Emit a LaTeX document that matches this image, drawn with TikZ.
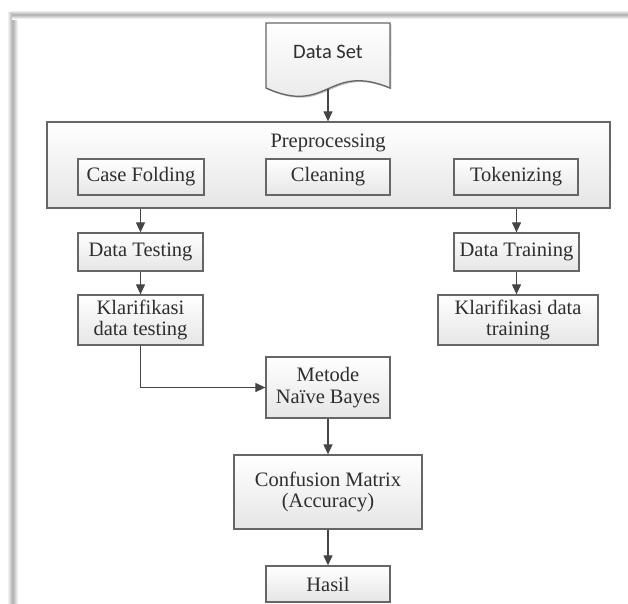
\documentclass[tikz,border=0pt]{standalone}
\usepackage{fontspec}
\setmainfont{Liberation Serif}
\newfontfamily\calibrifont{Carlito}
\usetikzlibrary{arrows.meta,shadows}
\definecolor{boxline}{HTML}{666666}
\definecolor{boxtext}{HTML}{2E2E2E}
\definecolor{arrowgray}{HTML}{454545}
\tikzset{
  boxfill/.style={draw=boxline, line width=1.3pt, top color=white, bottom color=black!10,
    drop shadow={shadow xshift=1.4pt, shadow yshift=-1.4pt, opacity=0.25, fill=black}},
  box/.style={boxfill, text=boxtext, align=center, inner sep=0pt,
    font=\fontsize{20.5}{21.5}\selectfont},
  arr/.style={draw=arrowgray, line width=1.2pt, -{Triangle[length=10pt,width=9pt]}},
}
\begin{document}
\begin{tikzpicture}[x=1pt,y=1pt]
	\useasboundingbox (0,0) rectangle (628,-603);
	% frame of the page
	\shade[left color=white, right color=white, middle color=black!32] (7,-12) rectangle (18,-603);
	\shade[top color=white, bottom color=white, middle color=black!32] (12,-10) rectangle (628,-19);
	\fill[white] (18,-19) rectangle (628,-603);

	% data set (document shape)
	\path[boxfill] (266,-23) -- (390,-23) -- (390,-88)
		.. controls (328,-62) and (328,-116) .. (266,-88) -- cycle;
	\node[text=boxtext, font=\calibrifont\fontsize{20.5}{21.5}\selectfont] (dataset) at (328,-52) {Data Set};
	\coordinate (dsbot) at (328,-89);

	% preprocessing
	\node[box, minimum width=563pt, minimum height=86pt] (prep) at (328.5,-165) {};
	\node[text=boxtext, font=\fontsize{20.5}{21.5}\selectfont] (preplabel) at (328,-143) {Preprocessing};
	\node[box, minimum width=126pt, minimum height=36pt] (casefold) at (141,-177) {Case Folding};
	\node[box, minimum width=124pt, minimum height=36pt] (cleaning) at (328,-177) {Cleaning};
	\node[box, minimum width=124pt, minimum height=36pt] (token) at (516,-177) {Tokenizing};

	% testing side
	\node[box, minimum width=125pt, minimum height=38pt] (dtest) at (140.5,-252) {Data Testing};
	\node[box, minimum width=125pt, minimum height=50pt] (ktest) at (140.5,-320) {Klarifikasi\\data testing};

	% training side
	\node[box, minimum width=125pt, minimum height=38pt] (dtrain) at (516.5,-252) {Data Training};
	\node[box, minimum width=160pt, minimum height=50pt] (ktrain) at (518,-320) {Klarifikasi data\\training};

	% method and result
	\node[box, minimum width=124pt, minimum height=61pt] (metode) at (328,-387.5) {Metode\\Naïve Bayes};
	\node[box, minimum width=188pt, minimum height=74pt] (conf) at (328,-492) {Confusion Matrix\\(Accuracy)};
	\node[box, minimum width=124pt, minimum height=36pt] (hasil) at (328,-584) {Hasil};

	\draw[arr] (dsbot) -- (dsbot |- prep.north);
	\draw[arr] (dtest.north |- prep.south) -- (dtest.north);
	\draw[arr] (dtrain.north |- prep.south) -- (dtrain.north);
	\draw[arr] (dtest) -- (ktest);
	\draw[arr] (dtrain.south) -- (dtrain.south |- ktrain.north);
	\draw[arr] (ktest.south) |- (metode.west);
	\draw[arr] (metode) -- (conf);
	\draw[arr] (conf) -- (hasil);
\end{tikzpicture}
\end{document}
